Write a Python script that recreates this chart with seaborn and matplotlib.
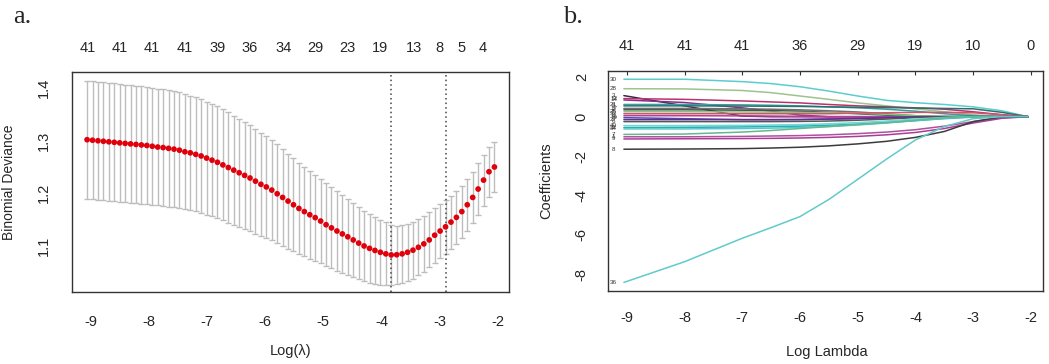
import numpy as np
import matplotlib
matplotlib.use("Agg")
import matplotlib.pyplot as plt
import seaborn as sns

# ---- panel a: cross-validated binomial deviance ----
log_lambda = np.linspace(-9.06, -2.06, 76)
cv_mean = [1.302, 1.301, 1.300, 1.299, 1.298, 1.297, 1.296, 1.295, 1.294, 1.293,
           1.292, 1.291, 1.2895, 1.288, 1.287, 1.2855, 1.284, 1.282, 1.279, 1.277,
           1.274, 1.271, 1.267, 1.263, 1.259, 1.254, 1.249, 1.244, 1.239, 1.234,
           1.229, 1.223, 1.217, 1.212, 1.206, 1.199, 1.192, 1.185, 1.178, 1.171,
           1.165, 1.159, 1.1535, 1.147, 1.140, 1.134, 1.128, 1.1225, 1.117, 1.111,
           1.105, 1.0995, 1.095, 1.091, 1.0875, 1.0845, 1.0825, 1.0828, 1.0845, 1.0875,
           1.0915, 1.097, 1.1035, 1.111, 1.120, 1.128, 1.136, 1.145, 1.154, 1.165,
           1.178, 1.192, 1.208, 1.225, 1.241, 1.250]
cv_se = [0.1127, 0.1127, 0.1126, 0.1125, 0.1124, 0.1123, 0.1122, 0.1121, 0.1120, 0.1119,
         0.1118, 0.1116, 0.1114, 0.1112, 0.1110, 0.1108, 0.1105, 0.1101, 0.1097, 0.1092,
         0.1087, 0.1082, 0.1077, 0.1071, 0.1064, 0.1057, 0.1049, 0.1041, 0.1032, 0.1022,
         0.1011, 0.0999, 0.0987, 0.0975, 0.0960, 0.0945, 0.0925, 0.0905, 0.0888, 0.0871,
         0.0854, 0.0837, 0.0820, 0.0803, 0.0786, 0.0770, 0.0754, 0.0738, 0.0722, 0.0706,
         0.0690, 0.0672, 0.0654, 0.0636, 0.0618, 0.0598, 0.0565, 0.0555, 0.0550, 0.0545,
         0.0540, 0.0535, 0.0530, 0.0525, 0.0520, 0.0515, 0.0510, 0.0505, 0.0500, 0.0497,
         0.0494, 0.0491, 0.0488, 0.0485, 0.0480, 0.0476]
nzero_pos_a = [-9.05, -8.50, -7.95, -7.39, -6.81, -6.26, -5.69, -5.14, -4.59, -4.02,
               -3.45, -3.0, -2.62, -2.26]
nzero_lab_a = ["41", "41", "41", "41", "39", "36", "34", "29", "23", "19", "13", "8", "5", "4"]
lambda_min, lambda_1se = -3.83, -2.89

# ---- panel b: coefficient paths ----
knots = [-9.05, -8, -7, -6.5, -6, -5.5, -5, -4.5, -4, -3.5, -3, -2.5, -2.05]
v30 = [1.90, 1.90, 1.78, 1.68, 1.52, 1.30, 1.05, 0.83, 0.71, 0.62, 0.50, 0.30, 0.0]
v28 = [1.42, 1.41, 1.33, 1.22, 1.05, 0.88, 0.70, 0.55, 0.40, 0.25, 0.10, 0.0, 0.0]
v3 = [1.07, 0.55, 0.03, 0, 0, 0, 0, 0, 0, 0, 0, 0, 0]
v12 = [0.92, 0.88, 0.80, 0.75, 0.70, 0.62, 0.55, 0.50, 0.45, 0.38, 0.25, 0.10, 0.0]
v14 = [0.85, 0.72, 0.45, 0.28, 0.08, 0, 0, 0, 0, 0, 0, 0, 0]
v21 = [0.62, 0.62, 0.60, 0.58, 0.55, 0.50, 0.45, 0.38, 0.28, 0.15, 0.05, 0, 0]
v5 = [0.55, 0.55, 0.54, 0.53, 0.52, 0.50, 0.48, 0.46, 0.44, 0.42, 0.40, 0.22, 0.0]
v17 = [0.42, 0.42, 0.40, 0.38, 0.35, 0.30, 0.24, 0.15, 0.05, 0, 0, 0, 0]
v2 = [0.35, 0.35, 0.33, 0.31, 0.28, 0.22, 0.15, 0.08, 0.0, 0, 0, 0, 0]
v25 = [0.25, 0.25, 0.24, 0.23, 0.22, 0.20, 0.18, 0.12, 0.05, 0, 0, 0, 0]
v33 = [0.15, 0.15, 0.15, 0.15, 0.15, 0.15, 0.18, 0.20, 0.22, 0.22, 0.20, 0.10, 0.0]
v11 = [0.05, 0.05, 0.04, 0.03, 0.02, 0, 0, 0, 0, 0, 0, 0, 0]
v19 = [-0.05, -0.10, -0.15, -0.15, -0.15, -0.12, -0.08, -0.04, 0, 0, 0, 0, 0]
v27 = [-0.15, -0.15, -0.15, -0.15, -0.14, -0.12, -0.10, -0.06, -0.02, 0, 0, 0, 0]
v6 = [-0.25, -0.25, -0.25, -0.25, -0.24, -0.22, -0.18, -0.12, -0.05, 0, 0, 0, 0]
v40 = [-0.45, -0.45, -0.44, -0.42, -0.40, -0.36, -0.30, -0.22, -0.12, -0.04, 0, 0, 0]
v22 = [-0.55, -0.54, -0.52, -0.50, -0.48, -0.44, -0.38, -0.30, -0.20, -0.10, -0.02, 0, 0]
v34 = [-0.62, -0.62, -0.60, -0.58, -0.55, -0.50, -0.42, -0.32, -0.20, -0.08, 0, 0, 0]
v7 = [-0.90, -0.88, -0.78, -0.70, -0.60, -0.50, -0.40, -0.30, -0.18, -0.05, 0, 0, 0]
v1 = [-1.02, -1.02, -1.00, -0.98, -0.96, -0.92, -0.86, -0.78, -0.66, -0.48, -0.25, -0.05, 0]
v9 = [-1.13, -1.12, -1.11, -1.10, -1.08, -1.05, -1.00, -0.92, -0.80, -0.60, -0.32, -0.08, 0]
v8 = [-1.65, -1.64, -1.62, -1.59, -1.55, -1.48, -1.38, -1.25, -1.05, -0.75, -0.25, 0, 0]
v36 = [-8.41, -7.36, -6.17, -5.63, -5.07, -4.20, -3.18, -2.15, -1.18, -0.50, -0.10, 0, 0]
nzero_pos_b = [-9, -8, -7, -6, -5, -4, -3, -2]
nzero_lab_b = ["41", "41", "41", "36", "29", "19", "10", "0"]

paths = [
    ("30", v30, "#5ccdcf"), ("28", v28, "#9cc48f"), ("3", v3, "#3a2540"),
    ("12", v12, "#b8326e"), ("14", v14, "#8e2a8c"), ("21", v21, "#2fa3a0"),
    ("5", v5, "#2e6f6e"), ("17", v17, "#707070"), ("2", v2, "#505050"),
    ("25", v25, "#7acb7a"), ("33", v33, "#d8506a"), ("11", v11, "#c0389a"),
    ("19", v19, "#3b56b0"), ("27", v27, "#6a2b8a"), ("6", v6, "#555555"),
    ("40", v40, "#6ed8da"), ("22", v22, "#27b0b0"), ("34", v34, "#56c6ce"),
    ("7", v7, "#64b88f"), ("1", v1, "#b0509f"), ("9", v9, "#a83d95"),
    ("8", v8, "#3c3c3c"), ("36", v36, "#62cacb"),
]

sns.set_style("white")
plt.rcParams["font.family"] = ["Liberation Sans", "DejaVu Sans"]

fig = plt.figure(figsize=(10.49, 3.64), dpi=100)
ax1 = fig.add_axes([0.0686, 0.1978, 0.4166, 0.6044])
ax2 = fig.add_axes([0.5799, 0.2014, 0.4144, 0.6036])

edge = "#333333"

# panel a
ax1.errorbar(log_lambda, cv_mean, yerr=cv_se, fmt="none", ecolor="#bdbdbd",
             elinewidth=1.0, capsize=2.2, capthick=1.0, zorder=1)
sns.scatterplot(x=log_lambda, y=cv_mean, color="#e0000b", s=17, edgecolor="none",
                ax=ax1, zorder=3)
for v in (lambda_min, lambda_1se):
    ax1.axvline(v, color="#444444", lw=1.1, ls=(0, (1, 2)), zorder=2)
ax1.set_xlim(-9.32, -1.81)
ax1.set_ylim(1.0118, 1.431)
ax1.set_xticks(range(-9, -1))
ax1.set_xticklabels([str(t) for t in range(-9, -1)])
ax1.set_yticks([1.1, 1.2, 1.3, 1.4])
ax1.set_yticklabels(["1.1", "1.2", "1.3", "1.4"])
ax1.tick_params(axis="x", length=6.5, width=0.9, color=edge, pad=10, labelsize=10.5)
ax1.tick_params(axis="y", length=5, width=0.9, color=edge, pad=10, labelsize=10.5,
                labelrotation=90)
for lab in ax1.get_yticklabels():
    lab.set_va("center")
ax1.set_xlabel("Log(λ)", fontsize=10.5)
ax1.set_ylabel("Binomial Deviance", fontsize=10)
ax1.xaxis.set_label_coords(0.5, -0.236)
ax1.yaxis.set_label_coords(-0.128, 0.5)
top1 = ax1.secondary_xaxis("top")
top1.set_xticks(nzero_pos_a)
top1.set_xticklabels(nzero_lab_a)
top1.tick_params(length=0, pad=12, labelsize=10.5)
top1.spines["top"].set_visible(False)

# panel b
for lab, vals, col in paths:
    sns.lineplot(x=knots, y=vals, color=col, lw=1.1, ax=ax2)
    ax2.text(-9.23, vals[0], lab, fontsize=4.5, color="#333333", ha="center", va="center")
ax2.set_xlim(-9.32, -1.79)
ax2.set_ylim(-8.83, 2.32)
ax2.set_xticks(range(-9, -1))
ax2.set_xticklabels([str(t) for t in range(-9, -1)])
ax2.set_yticks([-8, -6, -4, -2, 0, 2])
ax2.set_yticklabels(["-8", "-6", "-4", "-2", "0", "2"])
ax2.tick_params(axis="x", length=6.5, width=0.9, color=edge, pad=8, labelsize=10.5)
ax2.tick_params(axis="y", length=6, width=0.9, color=edge, pad=8, labelsize=10.5,
                labelrotation=90)
for lab in ax2.get_yticklabels():
    lab.set_va("center")
ax2.set_xlabel("Log Lambda", fontsize=10.5)
ax2.set_ylabel("Coefficients", fontsize=10.5)
ax2.xaxis.set_label_coords(0.502, -0.249)
ax2.yaxis.set_label_coords(-0.126, 0.5)
top2 = ax2.secondary_xaxis("top")
top2.set_xticks(nzero_pos_b)
top2.set_xticklabels(nzero_lab_b)
top2.tick_params(direction="in", length=3, width=0.8, color=edge, pad=13, labelsize=10.5)
top2.spines["top"].set_visible(False)

for ax in (ax1, ax2):
    for s in ax.spines.values():
        s.set_visible(True)
        s.set_color(edge)
        s.set_linewidth(1.0)

fig.text(0.0124, 0.9376, "a.", fontsize=19, family="Liberation Serif", va="baseline")
fig.text(0.537, 0.936, "b.", fontsize=19, family="Liberation Serif", va="baseline")

fig.savefig("out.png", dpi=100)
